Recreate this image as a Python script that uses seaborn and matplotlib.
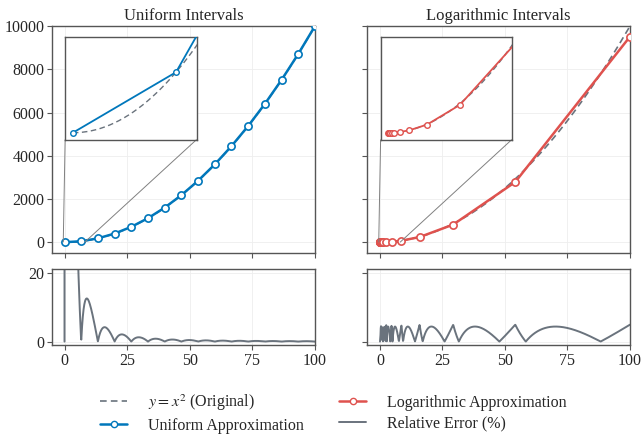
import numpy as np
import pandas as pd
import matplotlib
matplotlib.use("Agg")
import matplotlib.pyplot as plt
import seaborn as sns
from matplotlib.lines import Line2D
from mpl_toolkits.axes_grid1.inset_locator import mark_inset

# ---- data ----
x_uniform = [0.0, 6.667, 13.333, 20.0, 26.667, 33.333, 40.0, 46.667, 53.333,
             60.0, 66.667, 73.333, 80.0, 86.667, 93.333, 100.0]
y_uniform = [0.0, 44.44, 177.78, 400.0, 711.11, 1111.11, 1600.0, 2177.78, 2844.44,
             3600.0, 4444.44, 5377.78, 6400.0, 7511.11, 8711.11, 10000.0]
x_log = [0.01, 0.0185, 0.0342, 0.0631, 0.1166, 0.2154, 0.3981, 0.7356, 1.3594,
         2.5119, 4.6416, 8.577, 15.849, 29.286, 54.117, 100.0]
y_log = [0.000095, 0.000325, 0.00111, 0.00379, 0.01293, 0.04412, 0.1507, 0.5146,
         1.757, 6.000, 20.49, 69.96, 238.9, 815.7, 2785.2, 9510.0]
x_dense = np.linspace(0, 100, 1000)
y_original = x_dense ** 2  # y = x^2, the original function

titles = ["Uniform Intervals", "Logarithmic Intervals"]
x_ticks = [0, 25, 50, 75, 100]
y_ticks_main = [0, 2000, 4000, 6000, 8000, 10000]
y_ticks_err = [0, 20]

BLUE = "#0077BB"
RED = "#DF524E"
GRAY = "#6A737D"

sns.set_theme(style="whitegrid")
plt.rcParams["font.family"] = ["Liberation Serif", "DejaVu Serif"]
plt.rcParams["mathtext.fontset"] = "stix"
plt.rcParams["axes.edgecolor"] = "#555555"
plt.rcParams["grid.color"] = "#eeeeee"
plt.rcParams["grid.linewidth"] = 0.6

fig = plt.figure(figsize=(6.41, 4.34), dpi=100)

cols = [(0.0811, 0.4103), (0.5733, 0.4095)]
top_b, top_h = 0.417, 0.523
bot_b, bot_h = 0.205, 0.175

def rel_err(xn, yn):
    approx = np.interp(x_dense, xn, yn)
    err = np.zeros_like(x_dense)
    mask = y_original > 0
    err[mask] = np.abs(approx[mask] - y_original[mask]) / y_original[mask] * 100
    return err

series = [(x_uniform, y_uniform, BLUE), (x_log, y_log, RED)]

for i, ((l, w), (xn, yn, col)) in enumerate(zip(cols, series)):
    ax = fig.add_axes([l, top_b, w, top_h])
    axe = fig.add_axes([l, bot_b, w, bot_h])
    for a in (ax, axe):
        for s in a.spines.values():
            s.set_color("#555555")
            s.set_linewidth(1.0)
        a.tick_params(axis="both", which="both", direction="out", length=3.5,
                      width=0.8, color="#555555", labelsize=11.5, pad=2,
                      bottom=True, left=True)
        a.set_xlim(-5, 100)
        a.set_xticks(x_ticks)
    df_orig = pd.DataFrame({"x": x_dense, "y": y_original})
    df_n = pd.DataFrame({"x": xn, "y": yn})
    sns.lineplot(data=df_orig, x="x", y="y", ax=ax, color=GRAY, lw=1.2,
                 linestyle=(0, (4, 2.5)), estimator=None, zorder=2)
    sns.lineplot(data=df_n, x="x", y="y", ax=ax, color=col, lw=1.8, marker="o",
                 markersize=5.2, markerfacecolor="white", markeredgecolor=col,
                 markeredgewidth=1.2, estimator=None, zorder=3)
    ax.set_ylim(-500, 10000)
    ax.set_yticks(y_ticks_main)
    ax.set_xlabel("")
    ax.set_ylabel("")
    ax.set_xticklabels([])
    ax.set_title(titles[i], fontsize=12, pad=4)
    if i == 1:
        ax.set_yticklabels([])

    # inset
    axins = ax.inset_axes([0.05, 0.5, 0.5, 0.45])
    sns.lineplot(data=df_orig, x="x", y="y", ax=axins, color=GRAY, lw=1.0,
                 linestyle=(0, (4, 2.5)), estimator=None, zorder=2)
    sns.lineplot(data=df_n, x="x", y="y", ax=axins, color=col, lw=1.3, marker="o",
                 markersize=4, markerfacecolor="white", markeredgecolor=col,
                 markeredgewidth=1.0, estimator=None, zorder=3)
    axins.set_xlim(-0.5, 8)
    axins.set_ylim(-5, 70)
    axins.set_xticks([])
    axins.set_yticks([])
    axins.set_xlabel("")
    axins.set_ylabel("")
    axins.grid(False)
    axins.set_facecolor("white")
    for s in axins.spines.values():
        s.set_color("#555555")
        s.set_linewidth(1.0)
    mark_inset(ax, axins, loc1=3, loc2=4, fc="none", ec="0.5", lw=0.7)

    # error
    df_e = pd.DataFrame({"x": x_dense, "y": rel_err(xn, yn)})
    sns.lineplot(data=df_e, x="x", y="y", ax=axe, color=GRAY, lw=1.4, estimator=None)
    axe.set_ylim(-1, 21)
    axe.set_yticks(y_ticks_err)
    axe.set_xlabel("")
    axe.set_ylabel("")
    if i == 1:
        axe.set_yticklabels([])

handles = [
    Line2D([], [], color=GRAY, lw=1.2, linestyle=(0, (4, 2.5)), label=r"$y = x^2$ (Original)"),
    Line2D([], [], color=BLUE, lw=1.8, marker="o", markersize=4.5, markerfacecolor="white",
           markeredgecolor=BLUE, label="Uniform Approximation"),
    Line2D([], [], color=RED, lw=1.8, marker="o", markersize=4.5, markerfacecolor="white",
           markeredgecolor=RED, label="Logarithmic Approximation"),
    Line2D([], [], color=GRAY, lw=1.4, label="Relative Error (%)"),
]
fig.legend(handles=handles, loc="lower center", bbox_to_anchor=(0.52, -0.032), ncol=2,
           frameon=False, fontsize=11.5, handlelength=1.7, columnspacing=2.2,
           handletextpad=1.3, labelspacing=0.3)

fig.savefig("out.png", dpi=100)
